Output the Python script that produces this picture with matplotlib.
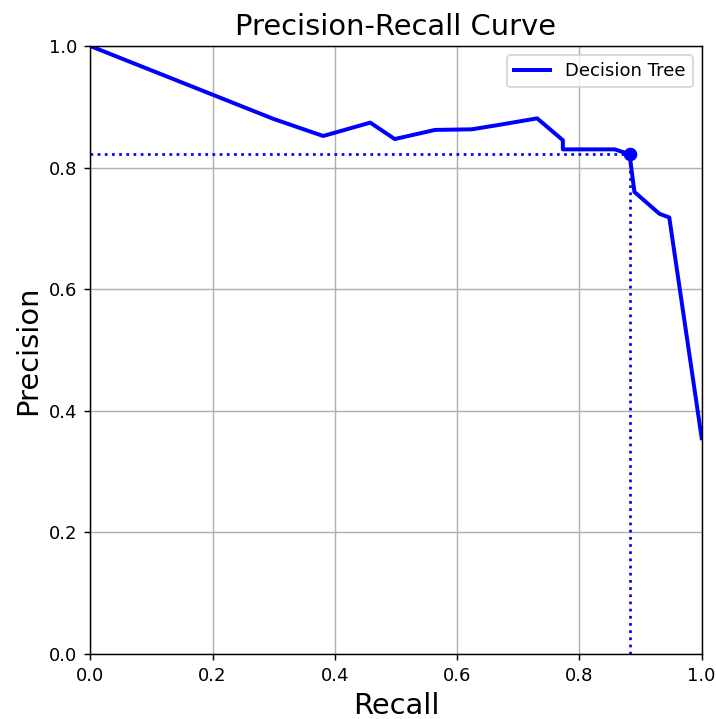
import matplotlib
matplotlib.use("Agg")
import matplotlib.pyplot as plt

recall = [0.0, 0.30, 0.381, 0.458, 0.498, 0.564, 0.624, 0.667, 0.731, 0.773, 0.773, 0.858, 0.882, 0.890, 0.931, 0.947, 1.0]
precision = [1.0, 0.880, 0.852, 0.874, 0.847, 0.862, 0.863, 0.870, 0.881, 0.845, 0.830, 0.830, 0.822, 0.760, 0.724, 0.718, 0.355]
best_recall = 0.882
best_precision = 0.822
series_label = "Decision Tree"

DPI = 130
fig = plt.figure(figsize=(716 / DPI, 719 / DPI), dpi=DPI)
ax = fig.add_axes([0.126, 0.0904, 0.854, 0.8456])
ax.plot(recall, precision, color="blue", lw=2.2, label=series_label)
ax.plot([0, best_recall], [best_precision, best_precision], color="blue", ls=":", lw=1.5)
ax.plot([best_recall, best_recall], [0, best_precision], color="blue", ls=":", lw=1.5)
ax.plot([best_recall], [best_precision], "o", color="blue", ms=6.5)
ax.set_xlim(0, 1)
ax.set_ylim(0, 1)
ax.grid(True)
ax.set_xlabel("Recall", fontsize=16)
ax.set_ylabel("Precision", fontsize=16)
ax.set_title("Precision-Recall Curve", fontsize=16)
ax.legend(loc="upper right")
fig.savefig("out.png", dpi=DPI)
